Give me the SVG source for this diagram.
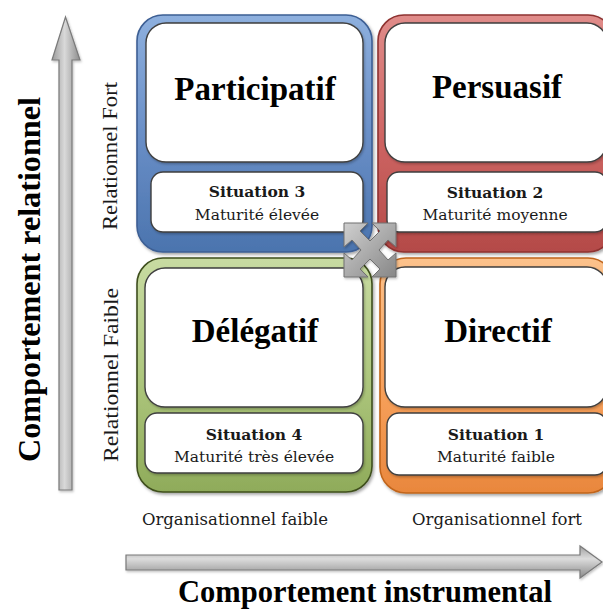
<svg xmlns="http://www.w3.org/2000/svg" width="603" height="610" viewBox="0 0 603 610">
<defs>
<linearGradient id="gBlue" x1="0" y1="0" x2="0" y2="1"><stop offset="0" stop-color="#8eb0de"/><stop offset="0.5" stop-color="#6a8fc7"/><stop offset="1" stop-color="#4b74ae"/></linearGradient>
<linearGradient id="gRed" x1="0" y1="0" x2="0" y2="1"><stop offset="0" stop-color="#e08c8a"/><stop offset="0.5" stop-color="#cf6664"/><stop offset="1" stop-color="#b44a48"/></linearGradient>
<linearGradient id="gGreen" x1="0" y1="0" x2="0" y2="1"><stop offset="0" stop-color="#c8dba2"/><stop offset="0.5" stop-color="#aec77e"/><stop offset="1" stop-color="#8fab5a"/></linearGradient>
<linearGradient id="gOrange" x1="0" y1="0" x2="0" y2="1"><stop offset="0" stop-color="#fcc28c"/><stop offset="0.5" stop-color="#f9a45f"/><stop offset="1" stop-color="#e9873d"/></linearGradient>
<linearGradient id="gArrowV" x1="0" y1="0" x2="1" y2="0"><stop offset="0" stop-color="#9a9a9a"/><stop offset="0.45" stop-color="#d9d9d9"/><stop offset="1" stop-color="#8c8c8c"/></linearGradient>
<linearGradient id="gArrowH" x1="0" y1="0" x2="0" y2="1"><stop offset="0" stop-color="#a0a0a0"/><stop offset="0.4" stop-color="#dcdcdc"/><stop offset="1" stop-color="#8a8a8a"/></linearGradient>
<linearGradient id="gIcon" x1="0" y1="0" x2="1" y2="1"><stop offset="0" stop-color="#cfcfcf"/><stop offset="1" stop-color="#878787"/></linearGradient>
<filter id="sh" x="-10%" y="-10%" width="125%" height="125%"><feDropShadow dx="1.5" dy="2" stdDeviation="1.5" flood-color="#000" flood-opacity="0.35"/></filter>
<filter id="shs" x="-10%" y="-10%" width="125%" height="130%"><feDropShadow dx="1" dy="1.5" stdDeviation="1" flood-color="#000" flood-opacity="0.25"/></filter>
</defs>
<style>
.frame{stroke-width:1.6}
.box{fill:#fff;stroke:#3f3f3f;stroke-width:1.4}
.title{font-family:"Liberation Serif","Times New Roman",serif;font-weight:bold;font-size:33px;fill:#000;text-anchor:middle}
.sit{font-family:"DejaVu Serif",Georgia,serif;font-weight:bold;font-size:15.5px;fill:#1a1a1a;text-anchor:middle}
.mat{font-family:"DejaVu Serif",Georgia,serif;font-size:15.5px;fill:#1a1a1a;text-anchor:middle}
.org{font-family:"DejaVu Serif",Georgia,serif;font-size:16.5px;fill:#1a1a1a;text-anchor:middle}
.rel{font-family:"Liberation Serif","Times New Roman",serif;font-size:22px;fill:#1a1a1a;text-anchor:middle}
.axis{font-family:"Liberation Serif","Times New Roman",serif;font-weight:bold;font-size:31px;fill:#000;text-anchor:middle}
.arrow{stroke:#7a7a7a;stroke-width:1.2}
</style>
<rect width="603" height="610" fill="#fff"/>

<g id="axes">
<path class="arrow" d="M59,490 L59,60 L52,60 L65.5,17 L80,60 L72,60 L72,490 Z" fill="url(#gArrowV)" filter="url(#shs)"/>
<path class="arrow" d="M126,555 L580,555 L580,546 L602,562 L580,578 L580,570 L126,570 Z" fill="url(#gArrowH)" filter="url(#shs)"/>
<text class="axis" transform="translate(40,279.5) rotate(-90)" textLength="365" lengthAdjust="spacingAndGlyphs">Comportement relationnel</text>
<text class="axis" x="365" y="602" font-size="30" textLength="374" lengthAdjust="spacingAndGlyphs">Comportement instrumental</text>
<text class="rel" transform="translate(117,156) rotate(-90)" textLength="148" lengthAdjust="spacingAndGlyphs">Relationnel Fort</text>
<text class="rel" transform="translate(118,375) rotate(-90)" textLength="174" lengthAdjust="spacingAndGlyphs">Relationnel Faible</text>
<text class="org" x="235" y="525">Organisationnel faible</text>
<text class="org" x="497" y="525">Organisationnel fort</text>
</g>

<g id="participatif">
<rect class="frame" x="137" y="15" width="235" height="237" rx="26" fill="url(#gBlue)" stroke="#3d5f94" filter="url(#sh)"/>
<rect class="box" x="146" y="23" width="217" height="139" rx="20" filter="url(#shs)"/>
<rect class="box" x="151" y="172" width="212" height="60" rx="12" filter="url(#shs)"/>
<text class="title" x="255" y="100">Participatif</text>
<text class="sit" x="257" y="197">Situation 3</text>
<text class="mat" x="257" y="220">Maturité élevée</text>
</g>

<g id="persuasif">
<rect class="frame" x="378" y="15" width="236" height="237" rx="26" fill="url(#gRed)" stroke="#8e3230" filter="url(#sh)"/>
<rect class="box" x="385" y="23" width="222" height="139" rx="20" filter="url(#shs)"/>
<rect class="box" x="387" y="172" width="220" height="60" rx="12" filter="url(#shs)"/>
<text class="title" x="497" y="98">Persuasif</text>
<text class="sit" x="495" y="198">Situation 2</text>
<text class="mat" x="495" y="220">Maturité moyenne</text>
</g>

<g id="delegatif">
<rect class="frame" x="137" y="258" width="235" height="234" rx="26" fill="url(#gGreen)" stroke="#3f4f1e" filter="url(#sh)"/>
<rect class="box" x="145" y="268" width="218" height="139" rx="20" filter="url(#shs)"/>
<rect class="box" x="145" y="413" width="218" height="60" rx="12" filter="url(#shs)"/>
<text class="title" x="255" y="342">Délégatif</text>
<text class="sit" x="254" y="440">Situation 4</text>
<text class="mat" x="254" y="462">Maturité très élevée</text>
</g>

<g id="directif">
<rect class="frame" x="380" y="258" width="234" height="235" rx="26" fill="url(#gOrange)" stroke="#c0651c" filter="url(#sh)"/>
<rect class="box" x="385" y="267" width="222" height="140" rx="20" filter="url(#shs)"/>
<rect class="box" x="387" y="413" width="220" height="62" rx="12" filter="url(#shs)"/>
<text class="title" x="498" y="342">Directif</text>
<text class="sit" x="496" y="440">Situation 1</text>
<text class="mat" x="496" y="462">Maturité faible</text>
</g>

<g id="center-icon">
<path d="M344,223 L368,223 L360,231 L370,241 L380,231 L372,223 L396,223 L396,247 L388,240 L379,250 L388,260 L396,253 L396,277 L372,277 L380,269 L370,259 L360,269 L368,277 L344,277 L344,253 L352,260 L361,250 L352,240 L344,247 Z" fill="url(#gIcon)" stroke="#707070" stroke-width="1" filter="url(#shs)"/>
</g>
</svg>
